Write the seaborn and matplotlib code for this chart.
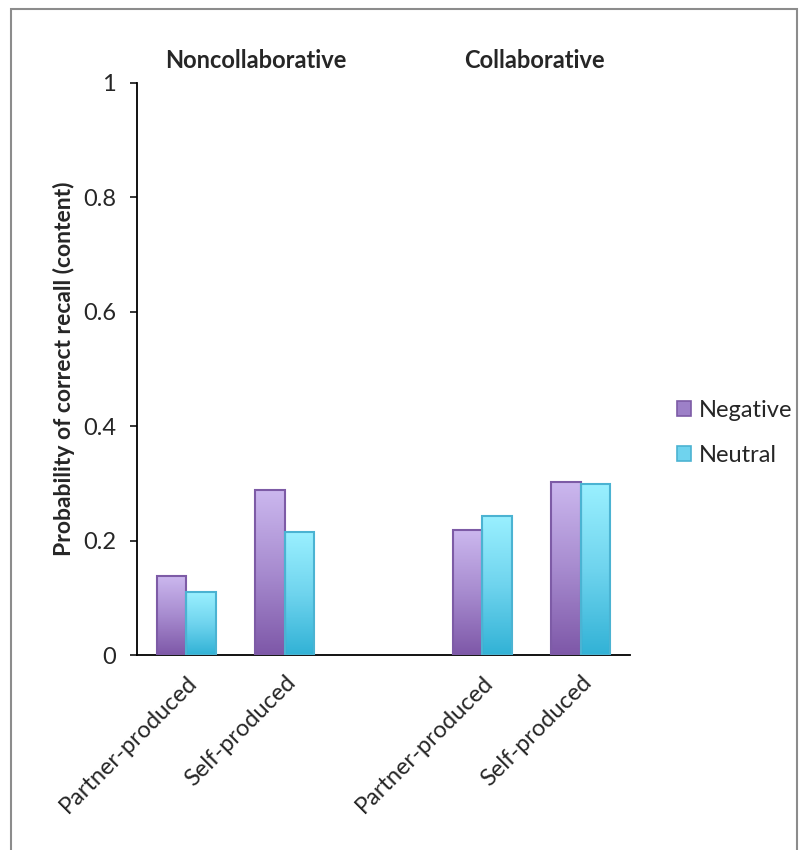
import numpy as np
import pandas as pd
import matplotlib
matplotlib.use('Agg')
import matplotlib.pyplot as plt
import seaborn as sns
from matplotlib.colors import LinearSegmentedColormap
from matplotlib.patches import Rectangle

# data
conditions = ['Noncollaborative', 'Collaborative']
sources = ['Partner-produced', 'Self-produced']
valence = ['Negative', 'Neutral']
negative = [0.138, 0.288, 0.218, 0.302]
neutral = [0.110, 0.215, 0.243, 0.299]

slots = ['NC-P', 'NC-S', 'gap', 'C-P', 'C-S']
slot_labels = ['Partner-produced', 'Self-produced', '', 'Partner-produced', 'Self-produced']

df = pd.DataFrame({
    'slot': ['NC-P', 'NC-S', 'C-P', 'C-S'] * 2,
    'value': negative + neutral,
    'valence': ['Negative'] * 4 + ['Neutral'] * 4,
})

sns.set_style('white')
plt.rcParams['font.family'] = ['Lato', 'DejaVu Sans']

fig = plt.figure(figsize=(8.03, 8.5), dpi=100)
ax = fig.add_axes([0.1706, 0.2294, 0.614, 0.673])

edge_cols = {'Negative': '#7d5ba6', 'Neutral': '#4bb3d2'}
sns.barplot(data=df, x='slot', y='value', hue='valence', order=slots,
            hue_order=valence, width=0.6, ax=ax, legend=False,
            palette={'Negative': '#a98bd0', 'Neutral': '#6fd3ee'})

# light-to-dark gradient in each bar
grads = {
    'Negative': LinearSegmentedColormap.from_list('neg', ['#7e58a8', '#a78bcf', '#cbb7ee']),
    'Neutral': LinearSegmentedColormap.from_list('neu', ['#32b2d6', '#6fd4ee', '#9af0ff']),
}
bars = [p for p in ax.patches if p.get_height() > 0]
bars = sorted(bars, key=lambda p: p.get_x())
for i, p in enumerate(bars):
    key = valence[i % 2]
    x0, w, h = p.get_x(), p.get_width(), p.get_height()
    p.set_facecolor('none')
    p.set_edgecolor(edge_cols[key])
    p.set_linewidth(1.5)
    p.set_zorder(3)
    im = ax.imshow(np.linspace(0, 1, 100).reshape(-1, 1), cmap=grads[key],
                   origin='lower', extent=[x0, x0 + w, 0, h], aspect='auto',
                   zorder=2)
    im.set_clip_path(p)

ax.set_xlim(-0.5, 4.5)
ax.set_ylim(0, 1)
ax.set_yticks([0, 0.2, 0.4, 0.6, 0.8, 1.0])
ax.set_yticklabels(['0', '0.2', '0.4', '0.6', '0.8', '1'], fontsize=17)
ax.set_xticks(range(len(slots)))
ax.set_xticklabels(slot_labels, rotation=45, ha='right', rotation_mode='anchor',
                   fontsize=17)
ax.tick_params(axis='x', length=0, pad=12)
ax.tick_params(axis='y', direction='out', length=5, width=1.3, left=True, pad=10)
ax.set_xlabel('')
ax.set_ylabel('Probability of correct recall (content)', fontsize=16.5,
              fontweight='bold', labelpad=6)
for s in ['top', 'right']:
    ax.spines[s].set_visible(False)
for s in ['left', 'bottom']:
    ax.spines[s].set_color('black')
    ax.spines[s].set_linewidth(1.3)

ax.text(0.70, 1.04, conditions[0], ha='center', va='center', fontsize=17,
        fontweight='bold', transform=ax.transData, clip_on=False)
ax.text(3.53, 1.04, conditions[1], ha='center', va='center', fontsize=17,
        fontweight='bold', transform=ax.transData, clip_on=False)

handles = [Rectangle((0, 0), 1, 1, facecolor=c, edgecolor=edge_cols[k], linewidth=1.2)
           for k, c in zip(valence, ['#9d80c8', '#6fd3ee'])]
fig.legend(handles, valence, loc='center left', bbox_to_anchor=(0.817, 0.4905),
           frameon=False, fontsize=17, handlelength=0.6, handleheight=0.6,
           handletextpad=0.3, labelspacing=1.0)

fig.patches.append(Rectangle((11 / 803, -0.01), (797 - 11) / 803, 1 - 9 / 850 + 0.01,
                             transform=fig.transFigure, fill=False,
                             edgecolor='#8c8c8c', linewidth=1.5))

fig.savefig('out.png', dpi=100)
